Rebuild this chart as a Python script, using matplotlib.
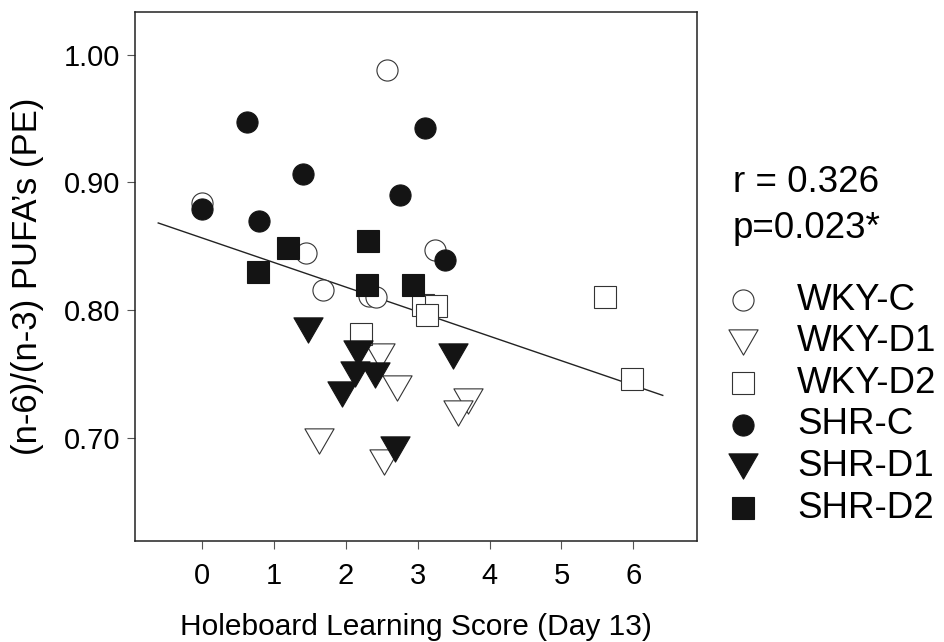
import numpy as np
import matplotlib.pyplot as plt
from matplotlib.path import Path

plt.rcParams['font.family'] = ['Liberation Sans', 'DejaVu Sans']

# values
wky_c_x = [0.00, 1.45, 1.68, 2.57, 3.24, 2.32, 2.42]
wky_c_y = [0.884, 0.845, 0.816, 0.988, 0.847, 0.811, 0.810]
wky_d1_x = [3.70, 3.56, 2.53, 2.71, 2.48, 1.63]
wky_d1_y = [0.729, 0.719, 0.681, 0.739, 0.764, 0.697]
wky_d2_x = [3.08, 3.25, 3.13, 2.21, 5.61, 5.98]
wky_d2_y = [0.804, 0.803, 0.796, 0.781, 0.810, 0.746]
shr_c_x = [0.00, 0.63, 1.40, 0.79, 3.10, 2.75, 3.38]
shr_c_y = [0.879, 0.947, 0.907, 0.870, 0.943, 0.890, 0.839]
shr_d1_x = [3.49, 2.68, 2.41, 1.47, 2.17, 2.13, 1.95]
shr_d1_y = [0.764, 0.691, 0.749, 0.784, 0.766, 0.750, 0.734]
shr_d2_x = [1.19, 0.78, 2.31, 2.30, 2.93]
shr_d2_y = [0.849, 0.830, 0.854, 0.820, 0.820]

fit_x = np.array([-0.61, 6.41])
fit_intercept = 0.8565
fit_slope = -0.01925

xticks = [0, 1, 2, 3, 4, 5, 6]
yticks = [0.70, 0.80, 0.90, 1.00]
ytick_labels = ['0.70', '0.80', '0.90', '1.00']

tri = Path([(-1, 0.866), (1, 0.866), (0, -0.866), (-1, 0.866)], closed=True)
black = '#141414'
edge = '#333333'

groups = [
    ('WKY-C', wky_c_x, wky_c_y, 'o', 'white', 15.2),
    ('WKY-D1', wky_d1_x, wky_d1_y, tri, 'white', 21.0),
    ('WKY-D2', wky_d2_x, wky_d2_y, 's', 'white', 15.8),
    ('SHR-C', shr_c_x, shr_c_y, 'o', black, 15.2),
    ('SHR-D1', shr_d1_x, shr_d1_y, tri, black, 21.0),
    ('SHR-D2', shr_d2_x, shr_d2_y, 's', black, 15.8),
]

fig = plt.figure(figsize=(9.44, 6.42), dpi=100)
ax = fig.add_axes([0.1425, 0.1574, 0.5961, 0.8239])

ax.plot(fit_x, fit_intercept + fit_slope * fit_x, color='#222222', lw=1.0, zorder=1)

for i, (lab, x, y, m, fc, ms) in enumerate(groups):
    ec = black if fc == black else edge
    ax.plot(x, y, ls='none', marker=m, ms=ms, mfc=fc, mec=ec, mew=0.8, zorder=2 + i)

ax.set_xlim(-0.94, 6.89)
ax.set_ylim(0.619, 1.0336)
ax.set_xticks(xticks)
ax.set_yticks(yticks)
ax.set_yticklabels(ytick_labels)
ax.tick_params(direction='out', length=5.5, width=0.8, color='#555555',
               labelsize=21, top=False, right=False)
ax.tick_params(axis='x', pad=10)
ax.tick_params(axis='y', pad=5)
for s in ax.spines.values():
    s.set_linewidth(1.1)
    s.set_color('#222222')

ax.set_xlabel('Holeboard Learning Score (Day 13)', fontsize=21.5, labelpad=16)
ax.set_ylabel('(n-6)/(n-3) PUFA\u2019s (PE)', fontsize=25, labelpad=14)

# stats text and legend to the right
fig.text(733 / 944, 1 - 183 / 642, 'r = 0.326', fontsize=26.5, va='center', ha='left')
fig.text(733 / 944, 1 - 228 / 642, 'p=0.023*', fontsize=26.5, va='center', ha='left')
for i, (lab, x, y, m, fc, ms) in enumerate(groups):
    yy = 1 - (300 + 41.6 * i) / 642
    ec = black if fc == black else edge
    ax.plot([743 / 944], [yy], transform=fig.transFigure, clip_on=False, ls='none',
            marker=m, ms=ms, mfc=fc, mec=ec, mew=0.8)
    fig.text(797 / 944, yy, lab, fontsize=26.5, va='center', ha='left')

fig.savefig('out.png', dpi=100)
